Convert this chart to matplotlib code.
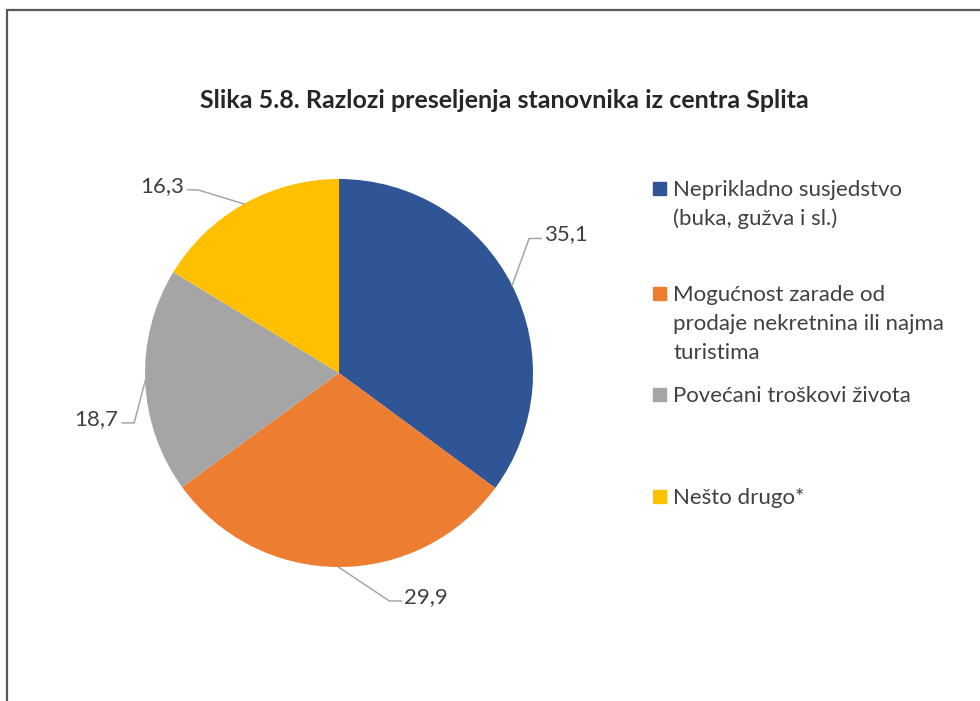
import matplotlib.pyplot as plt
from matplotlib.patches import Rectangle
import numpy as np

plt.rcParams['font.family'] = ['Lato', 'DejaVu Sans']

# data
categories = [['Neprikladno susjedstvo', '(buka, gužva i sl.)'],
              ['Mogućnost zarade od', 'prodaje nekretnina ili najma', 'turistima'],
              ['Povećani troškovi života'],
              ['Nešto drugo*']]
values = [35.1, 29.9, 18.7, 16.3]
value_labels = ['35,1', '29,9', '18,7', '16,3']
colors = ['#2F5597', '#ED7D31', '#A5A5A5', '#FFC000']
title = 'Slika 5.8. Razlozi preseljenja stanovnika iz centra Splita'

W, H = 980, 701
fig = plt.figure(figsize=(W / 100, H / 100), dpi=100)
ax = fig.add_axes([0, 0, 1, 1])

# frame around the chart area (left + top, as in the source)
ax.plot([7, 7, W], [0, H - 9.5, H - 9.5], color='#595959', lw=1.6,
        solid_capstyle='butt', solid_joinstyle='miter')

cx, cy, r = 339, H - 373, 194
wedges, _ = ax.pie(values, colors=colors, startangle=90, counterclock=False,
                   center=(cx, cy), radius=r, frame=True)
ax.set_xlim(0, W)
ax.set_ylim(0, H)
ax.set_aspect('equal')
ax.axis('off')

# leader lines: elbow offset from the wedge edge, horizontal tail length
elbows = [(17, 47), (51, -34), (-11, -42), (-46, 14)]
tails = [12, 12, -12, -10]
for w, lab, (ex, ey), t in zip(wedges, value_labels, elbows, tails):
    ang = np.deg2rad((w.theta1 + w.theta2) / 2)
    px, py = cx + r * np.cos(ang), cy + r * np.sin(ang)
    bx, by = px + ex, py + ey
    ax.plot([px, bx, bx + t], [py, by, by], color='#A6A6A6', lw=1.1)
    ha = 'left' if t > 0 else 'right'
    ax.text(bx + t + (3 if t > 0 else -4), by + 4, lab, ha=ha, va='center',
            fontsize=16, color='#404040')

ax.text(504, H - 100, title, ha='center', va='center', fontsize=18,
        fontweight='bold', color='#262626')

# legend
leg_y = [188, 293, 394, 496]
line_gap = 29
for lines, col, y in zip(categories, colors, leg_y):
    ax.add_patch(Rectangle((653, H - y - 6.5), 13, 13, color=col))
    for i, line in enumerate(lines):
        ax.text(673, H - (y + i * line_gap) - 8, line, ha='left', va='baseline',
                fontsize=16, color='#404040')

fig.savefig('out.png', dpi=100)
